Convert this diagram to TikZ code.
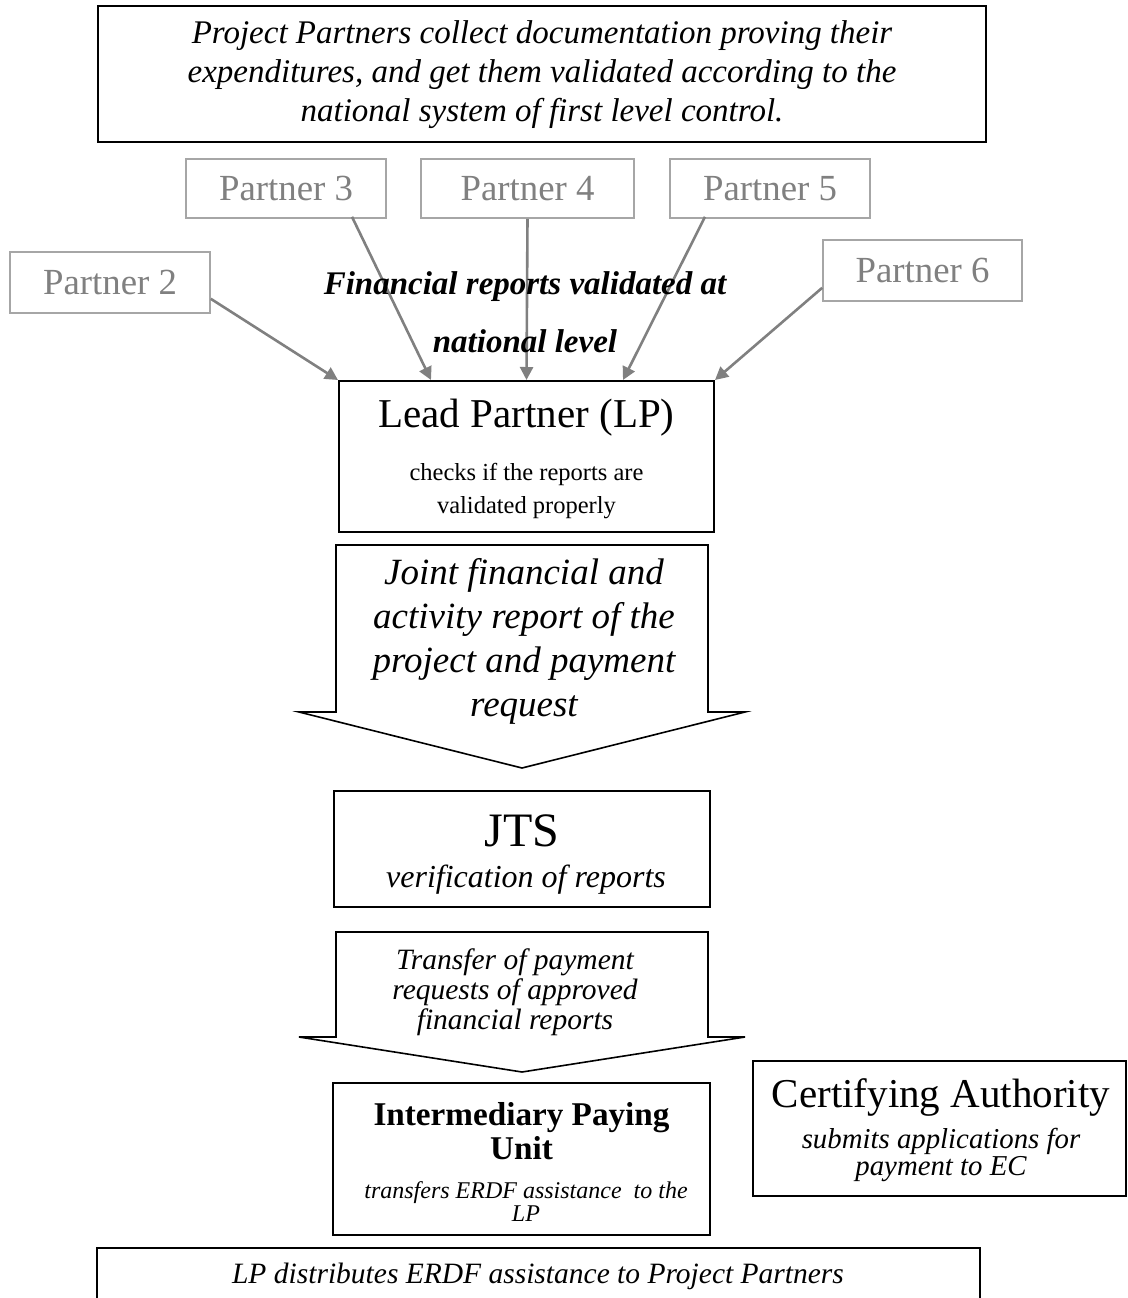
\documentclass[tikz,border=0pt]{standalone}
\usepackage{fontspec}
\setmainfont{Liberation Serif}
\usetikzlibrary{arrows.meta,calc}
\definecolor{pgray}{HTML}{808080}
\definecolor{pline}{HTML}{A6A6A6}
\begin{document}
\begin{tikzpicture}[x=0.5pt,y=-0.5pt,
  box/.style={draw=black,line width=1pt,inner sep=0pt,fill=white},
  pbox/.style={draw=pline,line width=0.8pt,inner sep=0pt,text=pgray,
    font=\fontsize{18.4pt}{20pt}\selectfont},
  feed/.style={draw=pgray,line width=1.3pt,-{Triangle[length=6.5pt,width=6.5pt]}},
  blockarrow/.style={draw=black,line width=0.8pt,fill=white,line join=miter},
  txt/.style={inner sep=0pt,align=center}]
\useasboundingbox (0,0) rectangle (1128,1298);
\clip (0,0) rectangle (1128,1298);

% top box
\node[box,minimum width=444pt,minimum height=68pt] (top) at (542,74) {};
\node[txt,font=\fontsize{16.5pt}{19.5pt}\selectfont\itshape] (toptext) at (542,75)
  {Project Partners collect documentation proving their\\
   expenditures, and get them validated according to the\\
   national system of first level control.};

% partners
\node[pbox,minimum width=100pt,minimum height=29.5pt] (p3) at (286,188.5) {Partner 3};
\node[pbox,minimum width=106.5pt,minimum height=29.5pt] (p4) at (527.5,188.5) {Partner 4};
\node[pbox,minimum width=100pt,minimum height=29.5pt] (p5) at (770,188.5) {Partner 5};
\node[pbox,minimum width=100pt,minimum height=30.5pt] (p2) at (110,282.5) {Partner 2};
\node[pbox,minimum width=99.5pt,minimum height=30.5pt] (p6) at (922.5,270.5) {Partner 6};

% lead partner
\node[box,minimum width=187.5pt,minimum height=75.5pt] (lead) at (526.5,456.5) {};
\node[txt,font=\fontsize{20.5pt}{22pt}\selectfont] (leadtitle) at (526.5,418) {Lead Partner (LP)};
\node[txt,font=\fontsize{12.25pt}{16.5pt}\selectfont] (leadsub) at (526.5,491)
  {checks if the reports are\\validated properly};

% feed arrows
\draw[feed] ($(p2.south east)+(0,-15)$) -- (lead.north west);
\draw[feed] ($(p3.south)+(66,-2)$) -- ($(lead.north west)+(93,0)$);
\draw[feed] (p4.south) -- (lead.north);
\draw[feed] ($(p5.south)+(-65,-2)$) -- ($(lead.north east)+(-92,0)$);
\draw[feed] ($(p6.south west)+(0,-14)$) -- (lead.north east);

% label over the arrows
\node[txt,font=\fontsize{16.5pt}{29pt}\selectfont\bfseries\itshape] (finlabel) at (525,312)
  {Financial reports validated at\\national level};

% block arrow 1
\draw[blockarrow] (336,545) -- (708,545) -- (708,712) -- (745,712) -- (522,768)
  -- (299,712) -- (336,712) -- cycle;
\node[txt,font=\fontsize{18.5pt}{22pt}\selectfont\itshape] (arrow1text) at (524,641)
  {Joint financial and\\activity report of the\\project and payment\\request};

% JTS
\node[box,minimum width=188pt,minimum height=58pt] (jts) at (522,849) {};
\node[txt,font=\fontsize{24pt}{26pt}\selectfont] (jtstitle) at (522,831) {JTS};
\node[txt,font=\fontsize{16pt}{18pt}\selectfont\itshape] (jtssub) at (526,880) {verification of reports};

% block arrow 2
\draw[blockarrow] (336,932) -- (708,932) -- (708,1037) -- (745,1037) -- (522,1072)
  -- (299,1037) -- (336,1037) -- cycle;
\node[txt,font=\fontsize{14.75pt}{15pt}\selectfont\itshape] (arrow2text) at (515,992)
  {Transfer of payment\\requests of approved\\financial reports};

% intermediary paying unit
\node[box,minimum width=188.5pt,minimum height=76pt] (ipu) at (521.5,1159) {};
\node[txt,font=\fontsize{16.6pt}{17pt}\selectfont\bfseries] (iputitle) at (521.5,1131)
  {Intermediary Paying\\Unit};
\node[txt,font=\fontsize{12pt}{11.5pt}\selectfont\itshape] (ipusub) at (526,1202)
  {transfers ERDF assistance\ \ to the\\LP};

% certifying authority
\node[box,minimum width=186.5pt,minimum height=67.5pt] (ca) at (939.5,1128.5) {};
\node[txt,font=\fontsize{20.5pt}{22pt}\selectfont] (catitle) at (941,1097) {Certifying Authority};
\node[txt,font=\fontsize{14.4pt}{13.5pt}\selectfont\itshape] (casub) at (941,1155)
  {submits applications for\\payment to EC};

% bottom box
\node[box,minimum width=441.5pt,minimum height=40pt] (bottom) at (538.5,1288) {};
\node[txt,font=\fontsize{14.75pt}{16pt}\selectfont\itshape] (bottomtext) at (538,1276)
  {LP distributes ERDF assistance to Project Partners};
\end{tikzpicture}
\end{document}
